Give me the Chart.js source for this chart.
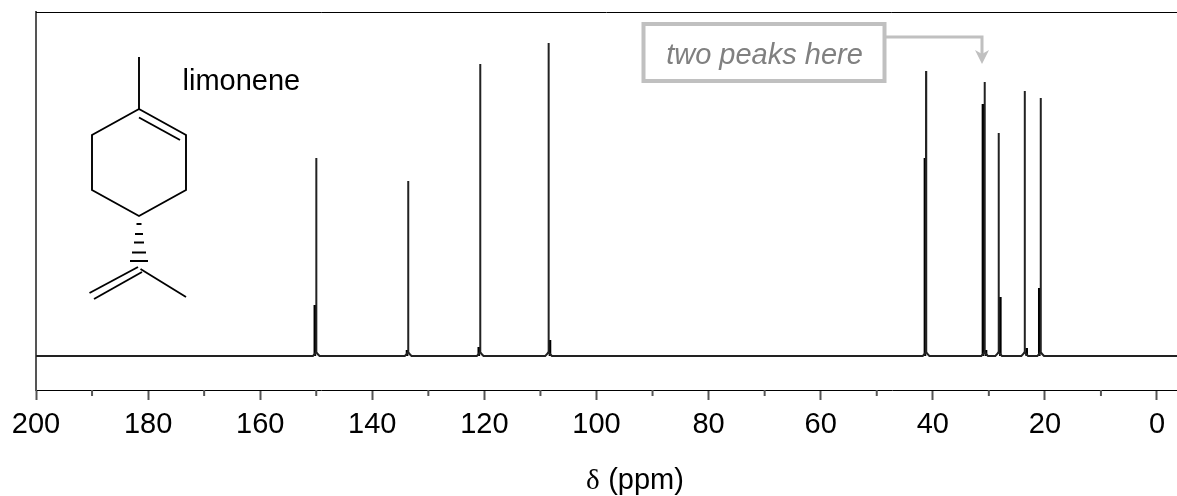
<!DOCTYPE html>
<html>
<head>
<meta charset="utf-8">
<script src="https://cdn.jsdelivr.net/npm/chart.js@4"></script>
<style>
@font-face { font-family: "DeltaMix"; src: local("Liberation Serif"); unicode-range: U+03B4; }
html, body { margin: 0; padding: 0; background: #fff; }
canvas { display: block; }
</style>
</head>
<body>
<canvas id="c" width="1177" height="496"></canvas>
<script>
const mainPpm = [150.0, 133.6, 120.75, 108.55, 41.2, 30.75, 28.25, 23.6, 20.75];
const mainHeight = [198, 175, 292, 313, 285, 274, 223, 265, 258];
const shoulderPpm = [150.25, 133.8, 121.0, 108.3, 41.4, 31.05, 30.5, 27.95, 23.25, 21.0];
const shoulderHeight = [51, 6, 9, 16, 198, 252, 6, 59, 8, 68];
const majorTicks = [200, 180, 160, 140, 120, 100, 80, 60, 40, 20, 0];
const minorTicks = [190, 170, 150, 130, 110, 90, 70, 50, 30, 10];
const axisTitle = "δ (ppm)";
const compoundName = "limonene";
const noteText = "two peaks here";

function mainTrace() {
  const pts = [{x: 200, y: 0}];
  mainPpm.forEach((p, i) => {
    pts.push({x: p + 0.6, y: 0}, {x: p + 0.25, y: 2}, {x: p + 0.03, y: 4},
             {x: p, y: mainHeight[i]},
             {x: p - 0.03, y: 4}, {x: p - 0.25, y: 2}, {x: p - 0.6, y: 0});
  });
  pts.push({x: -3.57, y: 0});
  return pts;
}
function shoulderTrace() {
  const pts = [];
  shoulderPpm.forEach((p, i) => {
    pts.push({x: p, y: 0}, {x: p, y: shoulderHeight[i]}, {x: null, y: null});
  });
  return pts;
}

function line(ctx, pts) {
  ctx.beginPath();
  pts.forEach((q, i) => i ? ctx.lineTo(q[0], q[1]) : ctx.moveTo(q[0], q[1]));
  ctx.stroke();
}

const decorations = {
  id: "decorations",
  afterDraw(chart) {
    const ctx = chart.ctx, xs = chart.scales.x, area = chart.chartArea;
    ctx.save();
    // top frame line
    ctx.strokeStyle = "#000"; ctx.lineWidth = 1;
    line(ctx, [[area.left, area.top + 0.5], [area.right, area.top + 0.5]]);
    // minor ticks
    ctx.strokeStyle = "#555"; ctx.lineWidth = 2;
    minorTicks.forEach(v => {
      const px = xs.getPixelForValue(v);
      line(ctx, [[px, area.bottom], [px, area.bottom + 6]]);
    });
    // molecule
    ctx.strokeStyle = "#000"; ctx.lineWidth = 1.9; ctx.lineCap = "butt"; ctx.lineJoin = "miter";
    line(ctx, [[139, 57], [139, 109]]);
    ctx.beginPath();
    [[139,109],[186,135],[186,190],[139,216],[92,190],[92,135]].forEach((q, i) => i ? ctx.lineTo(q[0], q[1]) : ctx.moveTo(q[0], q[1]));
    ctx.closePath(); ctx.stroke();
    line(ctx, [[139, 117.5], [180, 140]]);
    [[224,2.5],[234,4],[242.5,5],[252.5,7],[261,9]].forEach(h => {
      ctx.lineWidth = 2;
      line(ctx, [[139 - h[1], h[0]], [139 + h[1], h[0]]]);
    });
    ctx.lineWidth = 1.9;
    line(ctx, [[89.5, 293], [138, 267]]);
    line(ctx, [[94, 299], [142, 272]]);
    line(ctx, [[140.5, 269], [186, 297]]);
    // compound name
    ctx.fillStyle = "#000"; ctx.font = '29px "Liberation Sans"';
    ctx.textAlign = "left"; ctx.textBaseline = "alphabetic";
    ctx.fillText(compoundName, 182.5, 90);
    // annotation
    ctx.strokeStyle = "#c0c0c0"; ctx.lineWidth = 4;
    ctx.strokeRect(643.5, 24, 241, 57);
    ctx.lineWidth = 3;
    line(ctx, [[885, 37], [982, 37], [982, 58]]);
    ctx.fillStyle = "#c0c0c0";
    ctx.beginPath();
    ctx.moveTo(982, 64); ctx.lineTo(975, 50); ctx.lineTo(982, 54); ctx.lineTo(989, 50);
    ctx.closePath(); ctx.fill();
    ctx.fillStyle = "#808080"; ctx.font = 'italic 29px "Liberation Sans"';
    ctx.textAlign = "center";
    ctx.fillText(noteText, 764.5, 63.5);
    // axis title, offset to the right of the plot centre as in the source figure
    ctx.fillStyle = "#000"; ctx.font = '29px "DeltaMix", "Liberation Sans"';
    ctx.fillText(axisTitle, 635, 489);
    ctx.restore();
  }
};

function build() {
  new Chart(document.getElementById("c"), {
    type: "scatter",
    data: {
      datasets: [
        { label: "Spectrum", data: mainTrace(), showLine: true, pointRadius: 0, borderColor: "#222", borderWidth: 2, tension: 0, spanGaps: false },
        { label: "Shoulder", data: shoulderTrace(), showLine: true, pointRadius: 0, borderColor: "#000", borderWidth: 2.6, tension: 0, spanGaps: false }
      ]
    },
    options: {
      responsive: false, animation: false, devicePixelRatio: 1,
      layout: { padding: { left: 36, right: 0, top: 12, bottom: 0 } },
      plugins: { legend: { display: false }, tooltip: { enabled: false } },
      scales: {
        x: {
          type: "linear", reverse: true, min: -3.57, max: 200,
          afterBuildTicks(s) { s.ticks = majorTicks.map(v => ({ value: v })); },
          afterFit(s) { s.paddingLeft = 0; s.paddingRight = 0; s.height = 106; },
          grid: { drawOnChartArea: false, drawTicks: true, tickLength: 10, tickColor: "#555", tickWidth: 2 },
          border: { color: "#000", width: 1 },
          ticks: { autoSkip: false, maxRotation: 0, minRotation: 0, padding: 8, color: "#000",
                   font: { family: '"Liberation Sans"', size: 29 }, callback: v => String(v) }
        },
        y: {
          type: "linear", min: -34, max: 344,
          afterFit(s) { s.width = 0; },
          grid: { display: false },
          border: { display: true, color: "#555", width: 2 },
          ticks: { display: false }
        }
      }
    },
    plugins: [decorations]
  });
}
const ready = document.fonts ? document.fonts.load('29px "DeltaMix"', "δ") : Promise.resolve();
ready.then(build, build);
</script>
</body>
</html>
